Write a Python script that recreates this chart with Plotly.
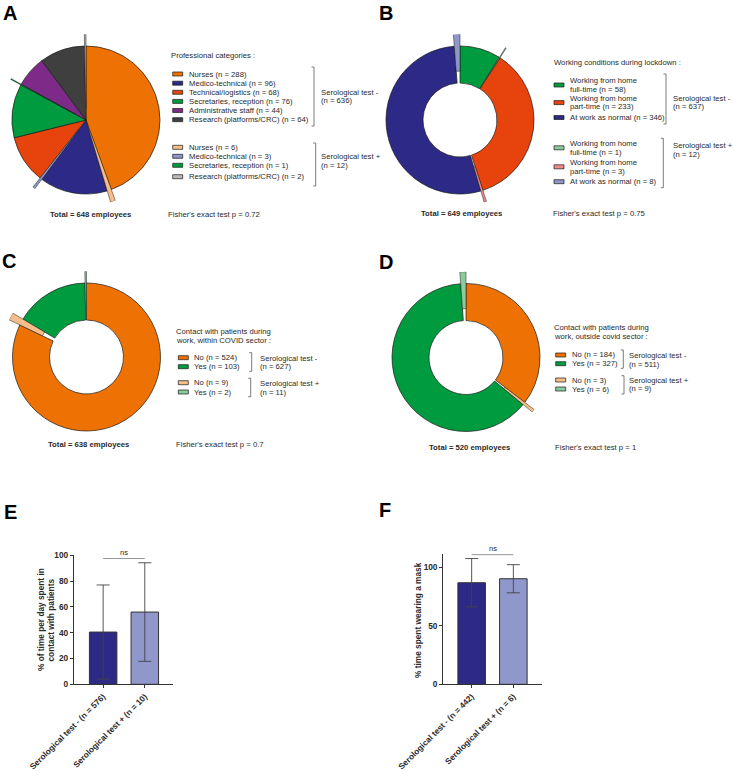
import plotly.graph_objects as go

# ---------------- DATA ----------------
A_cats = ["Nurses", "Medico-technical", "Technical/logistics", "Secretaries, reception",
          "Administrative staff", "Research (platforms/CRC)"]
A_neg = [288, 96, 68, 76, 44, 64]
A_pos = [6, 3, 0, 1, 0, 2]
A_p = "0.72"

B_cats = ["Working from home<br>full-time", "Working from home<br>part-time", "At work as normal"]
B_neg = [58, 233, 346]
B_pos = [1, 3, 8]
B_p = "0.75"

C_cats = ["No", "Yes"]
C_neg = [524, 103]
C_pos = [9, 2]
C_p = "0.7"

D_cats = ["No", "Yes"]
D_neg = [184, 327]
D_pos = [3, 6]
D_p = "1"

E_groups = ["Serological test - (n = 576)", "Serological test + (n = 10)"]
E_mean = [40.5, 56.0]
E_sd = [36.5, 38.2]

F_groups = ["Serological test - (n = 442)", "Serological test + (n = 6)"]
F_mean = [86.6, 90.0]
F_sd = [20.6, 12.0]

# ---------------- STYLE ----------------
W, H = 733, 771
FONT = "Liberation Sans, Arial, sans-serif"
FS = 7.7       # small text size
LS = 8.8       # line spacing for multi-line texts
TXT = "#2a2a2a"
ORANGE = "#EE7203"; NAVY = "#2C2A86"; TECH = "#E7440D"; GREEN = "#009A3F"
PURPLE = "#7D2A89"; DGRAY = "#3F3F3F"
L_ORANGE = "#F8BE8A"; L_BLUE = "#8F97CB"; L_GREEN = "#8CCB9E"; L_GRAY = "#BBBBBB"; PINK = "#F28B8B"

A_cneg = [ORANGE, NAVY, TECH, GREEN, PURPLE, DGRAY]
A_cpos = [L_ORANGE, L_BLUE, None, GREEN, None, L_GRAY]
B_cneg = [GREEN, TECH, NAVY]
B_cpos = [L_GREEN, PINK, L_BLUE]
CD_cneg = [ORANGE, GREEN]
CD_cpos = [L_ORANGE, L_GREEN]

RMAX = 1.16
EXPLODE = RMAX - 1.0
R_PX = 74  # outer radius in px

fig = go.Figure()
annotations = []
shapes = []


def ring(cats, neg, pos, cneg, cpos, hole, subplot):
    total = sum(neg) + sum(pos)
    cum = 0
    groups = {False: dict(t=[], w=[], b=[], r=[], c=[]), True: dict(t=[], w=[], b=[], r=[], c=[])}
    for n, p, a, b in zip(neg, pos, cneg, cpos):
        for cnt, col, positive in ((n, a, False), (p, b, True)):
            if not cnt:
                continue
            w = cnt / total * 360
            g = groups[positive]
            g["t"].append(cum + w / 2)
            g["w"].append(w)
            g["b"].append(hole + (EXPLODE if positive else 0))
            g["r"].append(1 - hole)
            g["c"].append(col)
            cum += w
    for positive, lw in ((False, 0.7), (True, 0.5)):
        g = groups[positive]
        fig.add_trace(go.Barpolar(theta=g["t"], width=g["w"], base=g["b"], r=g["r"],
                                  marker=dict(color=g["c"], line=dict(color="#1a1a1a", width=lw)),
                                  subplot=subplot, showlegend=False, hoverinfo="skip"))


def polar_layout(cx, cy):
    half = R_PX * RMAX
    return dict(domain=dict(x=[max(0, (cx - half) / W), (cx + half) / W],
                            y=[1 - (cy + half) / H, 1 - (cy - half) / H]),
                bgcolor="rgba(0,0,0,0)",
                angularaxis=dict(visible=False, rotation=90, direction="clockwise"),
                radialaxis=dict(visible=False, range=[0, RMAX]))


def text(x, y, s, size=FS, bold=False, anchor="left", color=TXT):
    lines = s.split("<br>")
    n = len(lines)
    for i, ln in enumerate(lines):
        yy = y + (i - (n - 1) / 2) * LS
        annotations.append(dict(x=x / W, y=1 - yy / H, xref="paper", yref="paper", text=ln,
                                showarrow=False, xanchor=anchor, yanchor="middle", align="left",
                                borderpad=0,
                                font=dict(size=size, family=FONT, color=color,
                                          weight="bold" if bold else "normal")))


def swatch(x0, yc, color):
    shapes.append(dict(type="rect", xref="paper", yref="paper",
                       x0=x0 / W, x1=(x0 + 10) / W, y0=1 - (yc + 2) / H, y1=1 - (yc - 2) / H,
                       fillcolor=color, line=dict(color="#1a1a1a", width=0.7)))


def bracket(x, y0, y1):
    xa, xb = (x - 2.5) / W, x / W
    ya, yb = 1 - y0 / H, 1 - y1 / H
    shapes.append(dict(type="path", xref="paper", yref="paper",
                       path=f"M {xa} {ya} L {xb} {ya} L {xb} {yb} L {xa} {yb}",
                       line=dict(color="#444", width=0.7)))


# ---------------- PIES ----------------
ring(A_cats, A_neg, A_pos, A_cneg, A_cpos, 0.0, "polar")
ring(B_cats, B_neg, B_pos, B_cneg, B_cpos, 0.5, "polar2")
ring(C_cats, C_neg, C_pos, CD_cneg, CD_cpos, 0.5, "polar3")
ring(D_cats, D_neg, D_pos, CD_cneg, CD_cpos, 0.5, "polar4")


def legend_block(cats, counts, colors, ys, sw_x, tx_x):
    for c, n, col, y in zip(cats, counts, colors, ys):
        if not n:
            continue
        swatch(sw_x, y, col)
        text(tx_x, y, f"{c} (n = {n})")


# A
text(170, 55.5, "Professional categories :")
legend_block(A_cats, A_neg, A_cneg, [74, 83.2, 92.3, 101.4, 110.5, 119.7], 172.7, 187.5)
bracket(314, 67, 126)
text(320, 96.5, f"Serological test -<br>(n = {sum(A_neg)})")
legend_block(A_cats, A_pos, A_cpos, [147.3, 156.3, None, 165.3, None, 176.7], 172.7, 187.5)
bracket(315.7, 143, 186)
text(320, 161, f"Serological test +<br>(n = {sum(A_pos)})")
text(90, 214, f"Total = {sum(A_neg) + sum(A_pos)} employees", bold=True, anchor="center")
text(166.5, 214, f"Fisher's exact test p = {A_p}")

# B
text(552.5, 62, "Working conditions during lockdown :")
legend_block(B_cats, B_neg, B_cneg, [85, 102.6, 117.5], 554, 568.5)
bracket(666, 74, 124)
text(672, 102.5, f"Serological test -<br>(n = {sum(B_neg)})")
legend_block(B_cats, B_pos, B_cpos, [147.8, 166.8, 181.7], 554, 568.5)
bracket(663.3, 138.3, 187.7)
text(671.5, 150.3, f"Serological test +<br>(n = {sum(B_pos)})")
text(461, 213.3, f"Total = {sum(B_neg) + sum(B_pos)} employees", bold=True, anchor="center")
text(552, 213.3, f"Fisher's exact test p = {B_p}")

# C
text(175, 335.8, "Contact with patients during<br>work, within COVID sector :")
legend_block(C_cats, C_neg, CD_cneg, [357.7, 366.7], 178.3, 192.8)
bracket(251.7, 352.7, 371.3)
text(259, 362.5, f"Serological test -<br>(n = {sum(C_neg)})")
legend_block(C_cats, C_pos, CD_cpos, [382.7, 392], 178.3, 192.8)
bracket(250.7, 378.3, 396.7)
text(258.5, 388.3, f"Serological test +<br>(n = {sum(C_pos)})")
text(88.3, 444.3, f"Total = {sum(C_neg) + sum(C_pos)} employees", bold=True, anchor="center")
text(174.7, 444.3, f"Fisher's exact test p = {C_p}")

# D
text(553, 331.7, "Contact with patients during<br>work, outside covid sector :")
legend_block(D_cats, D_neg, CD_cneg, [355, 363.7], 555.7, 571)
bracket(623.3, 350, 368.3)
text(627.5, 360, f"Serological test -<br>(n = {sum(D_neg)})")
legend_block(D_cats, D_pos, CD_cpos, [380, 389], 555.7, 571)
bracket(624, 375.7, 394)
text(627.5, 384.5, f"Serological test +<br>(n = {sum(D_pos)})")
text(469.7, 447, f"Total = {sum(D_neg) + sum(D_pos)} employees", bold=True, anchor="center")
text(553.5, 447, f"Fisher's exact test p = {D_p}")

# panel letters
for lab, x, y in (("A", 10, 13), ("B", 386, 13), ("C", 9, 260.5), ("D", 385.5, 261.5),
                  ("E", 10, 511.5), ("F", 384.5, 510)):
    text(x, y, lab, size=20, bold=True, anchor="center", color="#000")


# ---------------- BARS ----------------
def bar_panel(groups, mean, sd, xa, ya):
    fig.add_trace(go.Bar(x=groups, y=mean, width=0.66, xaxis=xa, yaxis=ya,
                         marker=dict(color=[NAVY, L_BLUE], line=dict(color="#333", width=1)),
                         error_y=dict(type="data", array=sd, color="#444", thickness=0.9, width=6.5),
                         showlegend=False, hoverinfo="skip"))
    top = max(m + s for m, s in zip(mean, sd)) + 3.3
    shapes.append(dict(type="line", xref=xa, yref=ya, x0=0, x1=1, y0=top, y1=top,
                       line=dict(color="#888", width=0.9)))
    annotations.append(dict(x=0.5, y=top, xref=xa, yref=ya, text="ns", showarrow=False,
                            yanchor="bottom", yshift=0,
                            font=dict(size=7.5, family=FONT, color=TXT)))


bar_panel(E_groups, E_mean, E_sd, "x", "y")
bar_panel(F_groups, F_mean, F_sd, "x2", "y2")

axis_common = dict(showline=True, linecolor="#333", linewidth=1.3, ticks="outside", ticklen=3,
                   tickcolor="#333", tickwidth=1, showgrid=False, zeroline=False, automargin=False,
                   tickfont=dict(size=8.3, family=FONT, color=TXT, weight="bold"))

text(45.5, 620, "% of time per day spent in<br>contact with patients", size=8.3, bold=True, anchor="center")
annotations[-2].update(textangle=-90, x=41 / W, y=1 - 620 / H)
annotations[-1].update(textangle=-90, x=50.5 / W, y=1 - 620 / H)
text(418, 620, "% time spent wearing a mask", size=8.3, bold=True, anchor="center")
annotations[-1]["textangle"] = -90

fig.update_layout(
    width=W, height=H, margin=dict(l=0, r=0, t=0, b=0, pad=0, autoexpand=False),
    paper_bgcolor="white", plot_bgcolor="white", showlegend=False,
    font=dict(family=FONT, size=FS, color=TXT),
    polar=polar_layout(86, 120), polar2=polar_layout(460, 120),
    polar3=polar_layout(86.5, 357), polar4=polar_layout(466, 357.5),
    xaxis=dict(domain=[74 / W, 172.7 / W], range=[-0.7, 1.67], tickangle=-45, anchor="y",
               **axis_common),
    yaxis=dict(domain=[1 - 684.3 / H, 1 - 555.3 / H], range=[0, 100], tickvals=[0, 20, 40, 60, 80, 100],
               anchor="x", **axis_common),
    xaxis2=dict(domain=[443.3 / W, 541.7 / W], range=[-0.68, 1.68], tickangle=-45, anchor="y2",
                **axis_common),
    yaxis2=dict(domain=[1 - 684.3 / H, 1 - 554.1 / H], range=[0, 111], tickvals=[0, 50, 100],
                anchor="x2", **axis_common),
    annotations=annotations, shapes=shapes,
)

fig.write_html("out.html", config={"displayModeBar": False},
               post_script="document.body.style.margin='0';document.body.style.overflow='hidden';")
